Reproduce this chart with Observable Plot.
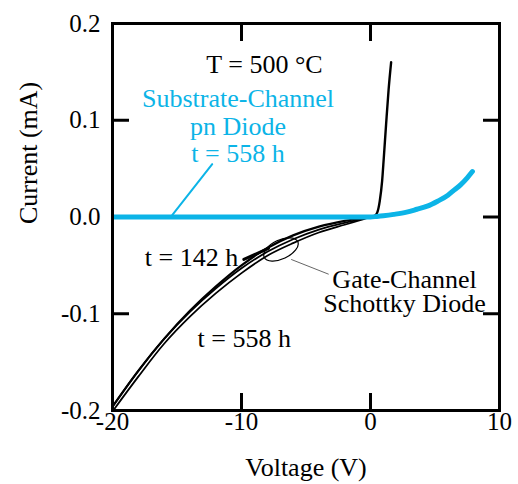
<!DOCTYPE html>
<html><head><meta charset="utf-8">
<script src="https://cdn.jsdelivr.net/npm/d3@7"></script>
<script src="https://cdn.jsdelivr.net/npm/@observablehq/plot@0.6"></script>
<style>
body{margin:0;background:#fff}
#chart svg, #chart svg text{font-family:"Liberation Serif","Times New Roman",serif !important}
</style>
</head><body><div id="chart"></div>
<script>
// Gate-Channel Schottky diode, reverse bias (V, mA)
const reverseVoltage = [-20, -18, -16, -14, -12, -10, -8, -6, -4, -2, -1, 0];
const current558a = [-0.201, -0.165, -0.131, -0.103, -0.079, -0.058, -0.040, -0.027, -0.016, -0.008, -0.004, 0];
const current558b = [-0.196, -0.159, -0.126, -0.098, -0.074, -0.053, -0.036, -0.023, -0.013, -0.006, -0.003, 0];
const current142 = [-0.196, -0.159, -0.126, -0.097, -0.072, -0.050, -0.032, -0.019, -0.010, -0.004, -0.002, 0];
// Gate-Channel Schottky diode, forward bias
const forwardVoltage = [0, 0.26, 0.52, 0.72, 0.9, 1.03, 1.21, 1.40, 1.6];
const forwardCurrent = [0, 0.0005, 0.0045, 0.0166, 0.037, 0.061, 0.096, 0.131, 0.160];
// Substrate-Channel pn diode, t = 558 h
const pnVoltage = [-20, -15, -10, -5, 0, 0.5, 1.0, 1.8, 2.8, 3.6, 4.4, 5.2, 6.0, 6.5, 7.0, 7.5, 7.9];
const pnCurrent = [0, 0, 0, 0, 0, 0.0006, 0.0013, 0.0027, 0.0050, 0.0080, 0.0112, 0.0163, 0.0225, 0.0280, 0.0335, 0.0405, 0.047];
// annotation leaders
const pnLeaderV = [-12.27, -15.37];
const pnLeaderI = [0.0546, 0.002];
const t142LeaderV = [-9.82, -7.91];
const t142LeaderI = [-0.0438, -0.0325];
const gateLeaderV = [-6.12, -3.27];
const gateLeaderI = [-0.044, -0.059];
const ellipseCenter = [{v: -6.94, i: -0.0335}];
// tick labels
const xTicks = [-20, -10, 0, 10];
const yTicks = [-0.2, -0.1, 0, 0.1, 0.2];
const innerXTicks = [-10, 0];
const innerYTicks = [-0.1, 0, 0.1];

const BLUE = "#0cb4e7";
const pts = (xs, ys) => xs.map((v, k) => ({v, i: ys[k]}));

const ellipseSymbol = {
  draw(ctx) {
    const a = 18.5, b = 9.5, k = 0.5523;
    ctx.moveTo(a, 0);
    ctx.bezierCurveTo(a, b * k, a * k, b, 0, b);
    ctx.bezierCurveTo(-a * k, b, -a, b * k, -a, 0);
    ctx.bezierCurveTo(-a, -b * k, -a * k, -b, 0, -b);
    ctx.bezierCurveTo(a * k, -b, a, -b * k, a, 0);
    ctx.closePath();
  }
};

const plot = Plot.plot({
  width: 518, height: 484,
  marginLeft: 112, marginRight: 19, marginTop: 23, marginBottom: 74,
  x: {domain: [-20, 10]},
  y: {domain: [-0.2, 0.2]},
  style: {fontFamily: "Liberation Serif, serif", fontSize: "25px", background: "#fff", color: "#000"},
  marks: [
    Plot.axisX({anchor: "bottom", ticks: xTicks, tickSize: -17, tickPadding: 18.5, strokeWidth: 3, tickFormat: d => String(d), label: null, fontSize: 25}),
    Plot.axisX({anchor: "top", ticks: innerXTicks, tickSize: -17, strokeWidth: 3, tickFormat: () => "", label: null}),
    Plot.axisY({anchor: "left", ticks: yTicks, tickSize: -17, tickPadding: 29, strokeWidth: 3, tickFormat: d => d.toFixed(1), label: null, fontSize: 25}),
    Plot.axisY({anchor: "right", ticks: innerYTicks, tickSize: -17, strokeWidth: 3, tickFormat: () => "", label: null}),
    Plot.line(pts(reverseVoltage, current558a), {x: "v", y: "i", stroke: "#000", strokeWidth: 1.8, curve: "catmull-rom", clip: true}),
    Plot.line(pts(reverseVoltage, current558b), {x: "v", y: "i", stroke: "#000", strokeWidth: 1.8, curve: "catmull-rom", clip: true}),
    Plot.line(pts(reverseVoltage, current142), {x: "v", y: "i", stroke: "#000", strokeWidth: 2.2, curve: "catmull-rom", clip: true}),
    Plot.line(pts(forwardVoltage, forwardCurrent), {x: "v", y: "i", stroke: "#000", strokeWidth: 2.4, curve: "monotone-x", clip: true}),
    Plot.line(pts(pnVoltage, pnCurrent), {x: "v", y: "i", stroke: BLUE, strokeWidth: 5, curve: "monotone-x", clip: true}),
    Plot.line(pts(pnLeaderV, pnLeaderI), {x: "v", y: "i", stroke: BLUE, strokeWidth: 2}),
    Plot.line(pts(t142LeaderV, t142LeaderI), {x: "v", y: "i", stroke: "#000", strokeWidth: 3}),
    Plot.line(pts(gateLeaderV, gateLeaderI), {x: "v", y: "i", stroke: "#666", strokeWidth: 1}),
    Plot.dot(ellipseCenter, {x: "v", y: "i", symbol: ellipseSymbol, rotate: -25, fill: "none", stroke: "#000", strokeWidth: 1.2}),
    Plot.frame({stroke: "#000", strokeWidth: 3}),
    Plot.text(["T = 500 °C"], {x: -8.22, y: 0.149, text: d => d, lineAnchor: "bottom", fontSize: 26}),
    Plot.text(["Substrate-Channel\npn Diode\nt = 558 h"], {x: -10.27, y: 0.0573, text: d => d, lineAnchor: "bottom", lineHeight: 1.04, fontSize: 26, fill: BLUE}),
    Plot.text(["t = 142 h"], {x: -13.88, y: -0.0503, text: d => d, lineAnchor: "bottom", fontSize: 26}),
    Plot.text(["t = 558 h"], {x: -9.79, y: -0.1344, text: d => d, lineAnchor: "bottom", fontSize: 26}),
    Plot.text(["Gate-Channel\nSchottky Diode"], {x: 2.64, y: -0.0984, text: d => d, lineAnchor: "bottom", lineHeight: 0.94, fontSize: 26}),
    Plot.text(["Voltage (V)"], {frameAnchor: "bottom", text: d => d, lineAnchor: "bottom", dy: 65, fontSize: 26}),
    Plot.text(["Current (mA)"], {frameAnchor: "left", text: d => d, lineAnchor: "bottom", rotate: -90, dx: -76, dy: 7, fontSize: 26})
  ]
});
document.getElementById("chart").append(plot);
</script></body></html>
